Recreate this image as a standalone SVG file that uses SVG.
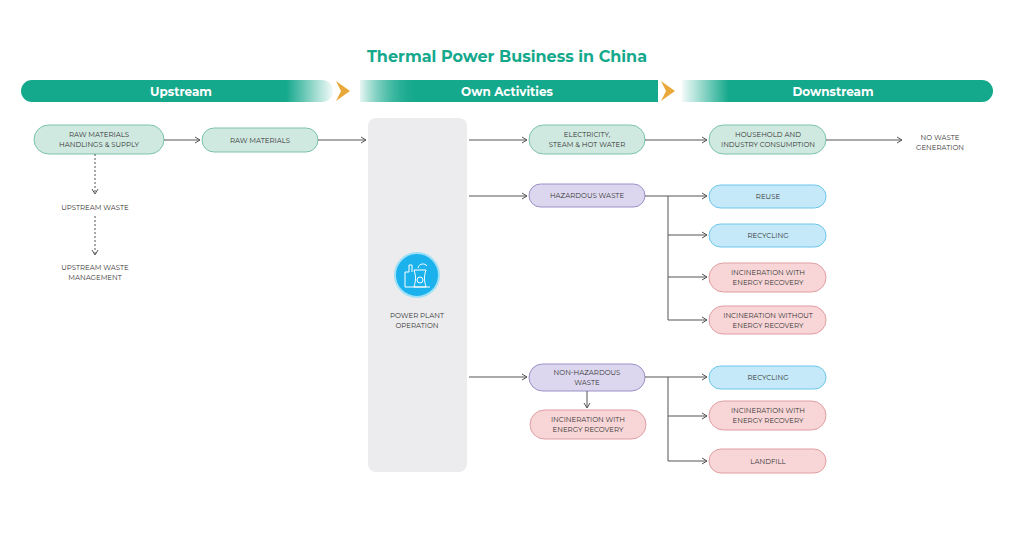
<svg xmlns="http://www.w3.org/2000/svg" width="1024" height="546" viewBox="0 0 1024 546">
<defs>
<linearGradient id="gU" x1="0" x2="1"><stop offset="0.85" stop-color="#14a88c"/><stop offset="1" stop-color="#14a88c" stop-opacity="0.05"/></linearGradient>
<linearGradient id="gO" x1="0" x2="1"><stop offset="0" stop-color="#14a88c" stop-opacity="0.05"/><stop offset="0.2" stop-color="#14a88c"/></linearGradient>
<linearGradient id="gD" x1="0" x2="1"><stop offset="0" stop-color="#14a88c" stop-opacity="0.05"/><stop offset="0.15" stop-color="#14a88c"/></linearGradient>
<marker id="a" markerWidth="8" markerHeight="8" refX="6" refY="4" orient="auto" markerUnits="userSpaceOnUse"><path d="M1,1 L6,4 L1,7" fill="none" stroke="#555" stroke-width="1"/></marker>
<style>
text{font-family:"Montserrat","Lato","Liberation Sans",sans-serif;text-anchor:middle;fill:#333;font-size:7px}
.g rect{fill:#cfe8e0;stroke:#7cc3ad}
.p rect{fill:#dcd7ee;stroke:#9a90c6}
.k rect{fill:#f8d6d7;stroke:#e09ea2}
.b rect{fill:#c5e9f8;stroke:#6cc6ea}
.ban{font-size:12px;font-weight:bold;fill:#fff}
#conn path{fill:none;stroke:#555;stroke-width:1}
</style>
</defs>
<rect width="1024" height="546" fill="#fff"/>
<text x="507" y="62" style="font-size:16px;font-weight:bold;fill:#14a88c">Thermal Power Business in China</text>
<g id="banners">
<rect x="21" y="80" width="312" height="22" rx="11" fill="url(#gU)"/>
<rect x="360" y="80" width="298" height="22" fill="url(#gO)"/>
<path d="M360,80 H647 A11,11 0 0 1 647,102 H360Z" fill="url(#gO)"/>
<path d="M682,80 H982 A11,11 0 0 1 982,102 H682Z" fill="url(#gD)"/>
<path d="M336,81 L350,91 L336,101 L341,91Z" fill="#e9a93a"/>
<path d="M661,81 L675,91 L661,101 L666,91Z" fill="#e9a93a"/>
<text class="ban" x="181" y="96">Upstream</text>
<text class="ban" x="507" y="96">Own Activities</text>
<text class="ban" x="833" y="96">Downstream</text>
</g>
<g id="plant">
<rect x="368" y="118" width="99" height="354" rx="8" fill="#ececee"/>
<circle cx="417" cy="275" r="22" fill="#1ab1ec" stroke="#9de0f8" stroke-width="2"/>
<path d="M405,287 V272 H409 V265 H412 V272 M414,287 C416,280 416,276 414,270 H426 C424,276 424,280 426,287 Z M405,287 H430 M418,268 C419,263 425,263 427,266" fill="none" stroke="#fff" stroke-width="1"/>
<circle cx="420" cy="280" r="3" fill="none" stroke="#fff"/>
<text x="417" y="318">POWER PLANT</text><text x="417" y="328">OPERATION</text>
</g>
<g id="n1" class="g"><rect x="34" y="125" width="130" height="29" rx="14.5"/><text x="99" y="137">RAW MATERIALS</text><text x="99" y="147">HANDLINGS &amp; SUPPLY</text></g>
<g id="n2" class="g"><rect x="202" y="128" width="116" height="24" rx="12"/><text x="260" y="143">RAW MATERIALS</text></g>
<text x="95" y="210">UPSTREAM WASTE</text>
<text x="95" y="270">UPSTREAM WASTE</text><text x="95" y="280">MANAGEMENT</text>
<g id="n3" class="g"><rect x="529" y="125" width="116" height="29" rx="14.5"/><text x="587" y="137">ELECTRICITY,</text><text x="587" y="147">STEAM &amp; HOT WATER</text></g>
<g id="n4" class="g"><rect x="709" y="125" width="117" height="29" rx="14.5"/><text x="768" y="137">HOUSEHOLD AND</text><text x="768" y="147">INDUSTRY CONSUMPTION</text></g>
<text x="940" y="140">NO WASTE</text><text x="940" y="150">GENERATION</text>
<g id="n5" class="p"><rect x="529" y="184" width="116" height="23" rx="11.5"/><text x="587" y="198">HAZARDOUS WASTE</text></g>
<g id="n6" class="b"><rect x="709" y="185" width="117" height="23" rx="11.5"/><text x="768" y="199">REUSE</text></g>
<g id="n7" class="b"><rect x="709" y="224" width="117" height="23" rx="11.5"/><text x="768" y="238">RECYCLING</text></g>
<g id="n8" class="k"><rect x="709" y="263" width="117" height="29" rx="14.5"/><text x="768" y="275">INCINERATION WITH</text><text x="768" y="285">ENERGY RECOVERY</text></g>
<g id="n9" class="k"><rect x="709" y="306" width="117" height="28" rx="14"/><text x="768" y="318">INCINERATION WITHOUT</text><text x="768" y="328">ENERGY RECOVERY</text></g>
<g id="n10" class="p"><rect x="529" y="364" width="116" height="27" rx="13.5"/><text x="587" y="375">NON-HAZARDOUS</text><text x="587" y="385">WASTE</text></g>
<g id="n11" class="k"><rect x="530" y="410" width="116" height="29" rx="14.5"/><text x="588" y="422">INCINERATION WITH</text><text x="588" y="432">ENERGY RECOVERY</text></g>
<g id="n12" class="b"><rect x="709" y="366" width="117" height="23" rx="11.5"/><text x="768" y="380">RECYCLING</text></g>
<g id="n13" class="k"><rect x="709" y="401" width="117" height="29" rx="14.5"/><text x="768" y="413">INCINERATION WITH</text><text x="768" y="423">ENERGY RECOVERY</text></g>
<g id="n14" class="k"><rect x="709" y="449" width="117" height="24" rx="12"/><text x="768" y="464">LANDFILL</text></g>
<g id="conn">
<path d="M164,140 H200" marker-end="url(#a)"/>
<path d="M318,140 H366" marker-end="url(#a)"/>
<path d="M95,154 V194" stroke-dasharray="2,2" marker-end="url(#a)"/>
<path d="M95,216 V255" stroke-dasharray="2,2" marker-end="url(#a)"/>
<path d="M469,140 H527" marker-end="url(#a)"/>
<path d="M645,140 H707" marker-end="url(#a)"/>
<path d="M826,140 H902" marker-end="url(#a)"/>
<path d="M469,196 H527" marker-end="url(#a)"/>
<path d="M645,196 H707" marker-end="url(#a)"/>
<path d="M668,196 V320"/>
<path d="M668,235 H707" marker-end="url(#a)"/>
<path d="M668,277 H707" marker-end="url(#a)"/>
<path d="M668,320 H707" marker-end="url(#a)"/>
<path d="M469,377 H527" marker-end="url(#a)"/>
<path d="M645,377 H707" marker-end="url(#a)"/>
<path d="M668,377 V461"/>
<path d="M668,416 H707" marker-end="url(#a)"/>
<path d="M668,461 H707" marker-end="url(#a)"/>
<path d="M587,391 V408" marker-end="url(#a)"/>
</g>
</svg>
